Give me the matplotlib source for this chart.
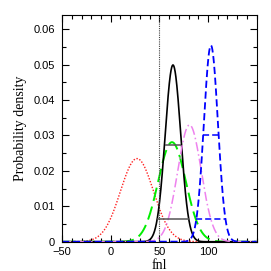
import numpy as np
import matplotlib
matplotlib.use("Agg")
import matplotlib.pyplot as plt
from matplotlib.ticker import MultipleLocator

# fnl posteriors: centre and width of each distribution
labels = ["red", "green", "black", "violet", "blue"]
means = [27, 63, 64, 81, 103]
sigmas = [17.0, 14.2, 8.0, 12.1, 7.2]
colors = ["#ff2020", "#00ee00", "black", "#ee82ee", "#0000ff"]
styles = [(0, (1, 1.2)), (0, (7, 3)), "-", (0, (6, 2, 1, 2)), (0, (4, 2))]
widths = [1.0, 1.4, 1.2, 1.1, 1.3]

# interval markers (level, x from, x to)
black_ci_y = [0.0273, 0.0065]
black_ci_x0 = [55.5, 48.0]
black_ci_x1 = [72.5, 80.0]
blue_ci_y = [0.0301, 0.0065]
blue_ci_x0 = [95.0, 88.0]
blue_ci_x1 = [111.0, 118.5]

fnl_ref = 50
xtick_vals = [-50, 0, 50, 100]

fig = plt.figure(figsize=(2.71, 2.71), dpi=100)
ax = fig.add_axes([0.229, 0.108, 0.718, 0.837])

x = np.linspace(-50, 150, 801)
for m, s, c, ls, lw in zip(means, sigmas, colors, styles, widths):
    y = np.exp(-0.5 * ((x - m) / s) ** 2) / (s * np.sqrt(2 * np.pi))
    ax.plot(x, y, color=c, linestyle=ls, linewidth=lw)

ax.hlines(black_ci_y, black_ci_x0, black_ci_x1, color="#555555", linewidth=1.1)
ax.hlines(blue_ci_y, blue_ci_x0, blue_ci_x1, color="#0000ff", linewidth=1.1,
          linestyle=(0, (4, 2)))

ax.axvline(fnl_ref, color="#444444", linestyle=(0, (1, 1)), linewidth=0.8)

ax.set_xlim(-50, 150)
ax.set_ylim(0, 0.064)
ax.set_xticks(xtick_vals)
ax.set_xticklabels(["\u221250", "0", "50", "100"])
ax.xaxis.set_minor_locator(MultipleLocator(10))
ax.yaxis.set_major_locator(MultipleLocator(0.01))
ax.yaxis.set_minor_locator(MultipleLocator(0.005))
ax.set_yticklabels(["0" if v == 0 else "%.2f" % v for v in ax.get_yticks()])
ax.tick_params(which="both", direction="in", top=True, right=True,
               labelsize=8)
ax.tick_params(axis="y", pad=5)
ax.tick_params(axis="x", pad=4)
ax.tick_params(which="major", length=5, width=0.8)
ax.tick_params(which="minor", length=3, width=0.8)
for t in ax.get_xticklabels() + ax.get_yticklabels():
    t.set_family("Liberation Sans")

ax.set_xlabel("fnl", family="Liberation Serif", fontsize=10, labelpad=1.5)
ax.set_ylabel("Probability density", family="Liberation Serif", fontsize=10,
              labelpad=5)

plt.savefig("out.png", dpi=100)
